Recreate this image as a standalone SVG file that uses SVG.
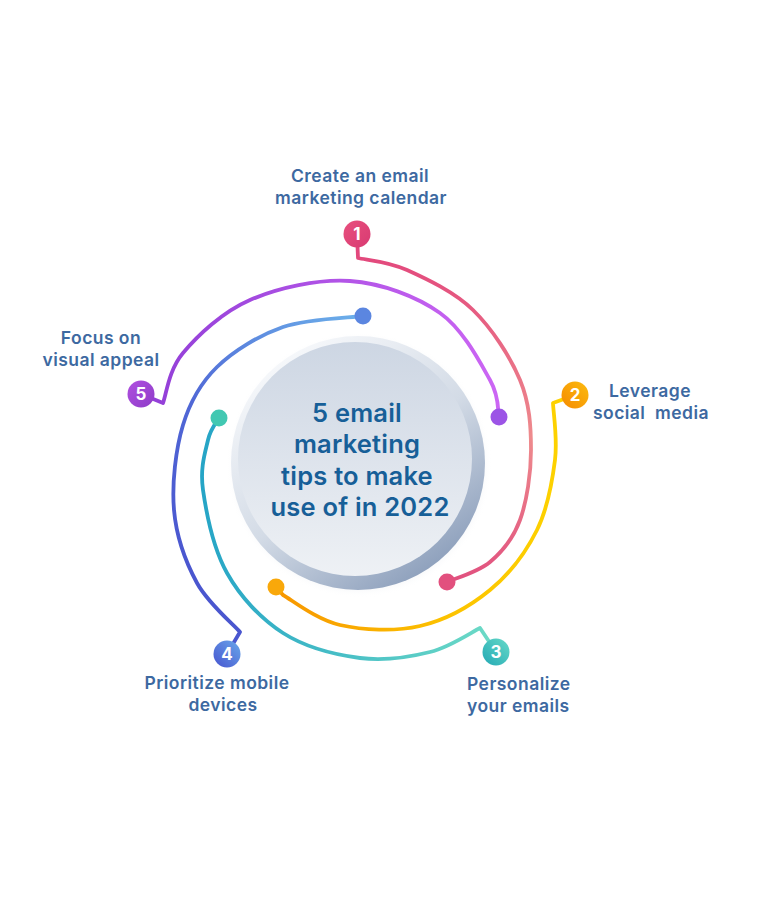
<svg xmlns="http://www.w3.org/2000/svg" width="767" height="912" viewBox="0 0 767 912">
<style>
.lbl{font-family:Inter,"Open Sans","Liberation Sans",sans-serif;font-weight:600;font-size:17.5px;letter-spacing:0.45px;fill:#3d69a1}
.ttl{font-family:Inter,"Open Sans","Liberation Sans",sans-serif;font-weight:600;font-size:25.5px;letter-spacing:0.2px;fill:#175f98;text-anchor:middle}
.num{font-family:Inter,"Liberation Sans",sans-serif;font-weight:700;font-size:17px;fill:#fff;text-anchor:middle}
.arc{fill:none;stroke-width:3.8;stroke-linecap:round;stroke-linejoin:round}
.pre{white-space:pre}
</style>
<defs>
<linearGradient id="g1" gradientUnits="userSpaceOnUse" x1="0" y1="250" x2="0" y2="590"><stop offset="0" stop-color="#e2467c"/><stop offset="0.55" stop-color="#ee8b8d"/><stop offset="1" stop-color="#e04d7e"/></linearGradient>
<linearGradient id="g2" gradientUnits="userSpaceOnUse" x1="560" y1="0" x2="276" y2="0"><stop offset="0" stop-color="#fdd200"/><stop offset="0.4" stop-color="#fcc200"/><stop offset="1" stop-color="#f79600"/></linearGradient>
<linearGradient id="g3" gradientUnits="userSpaceOnUse" x1="490" y1="0" x2="200" y2="0"><stop offset="0" stop-color="#6cdac6"/><stop offset="1" stop-color="#25a4c6"/></linearGradient>
<linearGradient id="g4" gradientUnits="userSpaceOnUse" x1="175" y1="560" x2="363" y2="316"><stop offset="0" stop-color="#4a56cf"/><stop offset="0.45" stop-color="#5068d6"/><stop offset="1" stop-color="#6cb0ea"/></linearGradient>
<linearGradient id="g5" gradientUnits="userSpaceOnUse" x1="160" y1="0" x2="500" y2="0"><stop offset="0" stop-color="#9440d8"/><stop offset="1" stop-color="#cc66f4"/></linearGradient>
<linearGradient id="b1" x1="0" y1="0" x2="1" y2="1"><stop offset="0" stop-color="#e8507e"/><stop offset="1" stop-color="#d83a72"/></linearGradient>
<linearGradient id="b2" x1="1" y1="0" x2="0" y2="1"><stop offset="0" stop-color="#fcbc10"/><stop offset="1" stop-color="#f58a00"/></linearGradient>
<linearGradient id="b3" x1="1" y1="0" x2="0" y2="1"><stop offset="0" stop-color="#66dac8"/><stop offset="1" stop-color="#23a8b4"/></linearGradient>
<linearGradient id="b4" x1="1" y1="0" x2="0" y2="1"><stop offset="0" stop-color="#6aa8ea"/><stop offset="1" stop-color="#4654cf"/></linearGradient>
<linearGradient id="b5" x1="0" y1="0" x2="1" y2="1"><stop offset="0" stop-color="#b050e0"/><stop offset="1" stop-color="#8e3cc8"/></linearGradient>
<linearGradient id="ring" x1="0.2" y1="0.1" x2="0.8" y2="0.95"><stop offset="0" stop-color="#f5f7fa"/><stop offset="0.5" stop-color="#d3dbe6"/><stop offset="1" stop-color="#8a9dba"/></linearGradient>
<linearGradient id="inner" x1="0" y1="0" x2="0" y2="1"><stop offset="0" stop-color="#cdd6e3"/><stop offset="1" stop-color="#eef1f5"/></linearGradient>
<radialGradient id="shadow" cx="0.5" cy="0.5" r="0.5"><stop offset="0.85" stop-color="#c8d0dc" stop-opacity="0.6"/><stop offset="1" stop-color="#ffffff" stop-opacity="0"/></radialGradient>
</defs>
<rect width="767" height="912" fill="#ffffff"/>

<g id="connectors">
<path class="arc" stroke="url(#g1)" d="M357,234 L358,258 C366.2,260 387.8,261.3 407,270 C426.2,278.7 454.2,291.7 473,310 C491.8,328.3 510.3,356.7 520,380 C529.7,403.3 531,426.7 531,450 C531,473.3 526.8,501.3 520,520 C513.2,538.7 502.2,551.7 490,562 C477.8,572.3 454.2,578.7 447,582"/>
<path class="arc" stroke="url(#g2)" d="M575,395 L553,403 C553.3,412.5 557.7,438.8 555,460 C552.3,481.2 547.8,508.3 537,530 C526.2,551.7 509.5,574 490,590 C470.5,606 445,620.2 420,626 C395,631.8 362.8,630.2 340,625 C317.2,619.8 293.7,601.3 283,595 L276,587"/>
<path class="arc" stroke="url(#g3)" d="M496,652 L480,628 C471.7,632 450,647 430,652 C410,657 384.5,661.2 360,658 C335.5,654.8 305.2,647.2 283,633 C260.8,618.8 240.3,596.8 227,573 C213.7,549.2 206.2,512.2 203,490 C199.8,467.8 205.3,452 208,440 C210.7,428 217.2,421.7 219,418"/>
<path class="arc" stroke="url(#g4)" d="M227,654 L240,632 C232.8,623.8 208,603.3 197,583 C186,562.7 176.3,536.3 174,510 C171.7,483.7 175.8,448.8 183,425 C190.2,401.2 200.3,383.3 217,367 C233.7,350.7 258.7,335.5 283,327 C307.3,318.5 349.7,317.8 363,316"/>
<path class="arc" stroke="url(#g5)" d="M141,394 L163,403 C166.3,394.7 168.5,370.2 183,353 C197.5,335.8 222.2,312 250,300 C277.8,288 318.3,278.8 350,281 C381.7,283.2 416.7,296.5 440,313 C463.3,329.5 480.2,362.7 490,380 C499.8,397.3 497.5,410.8 499,417"/>
<circle cx="447" cy="582" r="8.5" fill="#e2507e"/>
<circle cx="276" cy="587" r="8.5" fill="#f9a80a"/>
<circle cx="219" cy="418" r="8.5" fill="#42c8b2"/>
<circle cx="363" cy="316" r="8.5" fill="#5b86e0"/>
<circle cx="499" cy="417" r="8.5" fill="#9c54e6"/>
</g>

<g id="node-center">
<circle cx="359" cy="465" r="133" fill="url(#shadow)"/>
<circle cx="358" cy="463" r="127" fill="url(#ring)"/>
<circle cx="355" cy="459" r="117" fill="url(#inner)"/>
<text class="ttl" x="357" y="422">5 email</text>
<text class="ttl" x="357" y="453">marketing</text>
<text class="ttl" x="357" y="485">tips to make</text>
<text class="ttl" x="360" y="516">use of in 2022</text>
</g>

<g id="node-1">
<circle cx="357" cy="234" r="13.5" fill="url(#b1)"/>
<text class="num" x="357" y="240">1</text>
<text class="lbl" x="360" y="182" text-anchor="middle">Create an email</text>
<text class="lbl" x="361" y="204" text-anchor="middle">marketing calendar</text>
</g>

<g id="node-2">
<circle cx="575" cy="395" r="13.5" fill="url(#b2)"/>
<text class="num" x="575" y="401">2</text>
<text class="lbl" x="650" y="397" text-anchor="middle">Leverage</text>
<text class="lbl pre" x="651" y="419" text-anchor="middle" xml:space="preserve">social  media</text>
</g>

<g id="node-3">
<circle cx="496" cy="652" r="13.5" fill="url(#b3)"/>
<text class="num" x="496" y="658">3</text>
<text class="lbl" x="467" y="690">Personalize</text>
<text class="lbl" x="467" y="712">your emails</text>
</g>

<g id="node-4">
<circle cx="227" cy="654" r="13.5" fill="url(#b4)"/>
<text class="num" x="227" y="660">4</text>
<text class="lbl" x="217" y="689" text-anchor="middle">Prioritize mobile</text>
<text class="lbl" x="223" y="711" text-anchor="middle">devices</text>
</g>

<g id="node-5">
<circle cx="141" cy="394" r="13.5" fill="url(#b5)"/>
<text class="num" x="141" y="400">5</text>
<text class="lbl" x="101" y="344" text-anchor="middle">Focus on</text>
<text class="lbl" x="101" y="366" text-anchor="middle">visual appeal</text>
</g>
</svg>
